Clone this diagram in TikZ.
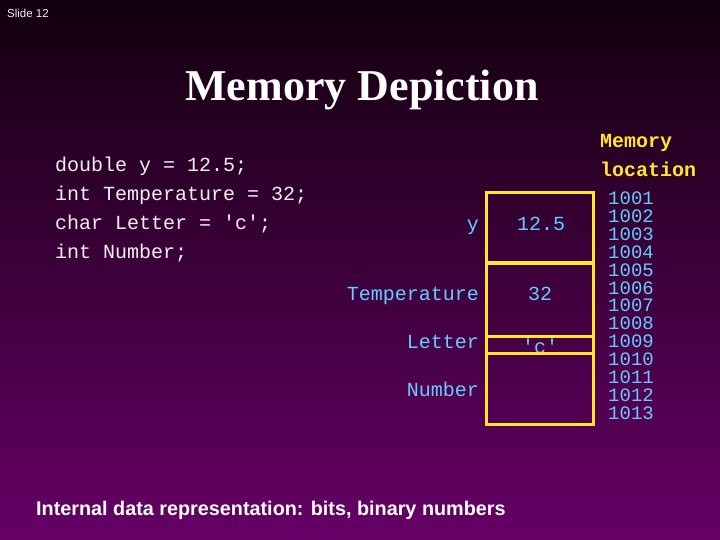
\documentclass[tikz,border=0pt]{standalone}
\usepackage{fontspec}
\setmainfont{Liberation Serif}
\setsansfont{Liberation Sans}
\setmonofont{Liberation Mono}
\usetikzlibrary{positioning}
\definecolor{slidetop}{RGB}{18,0,14}
\definecolor{slidebot}{RGB}{102,0,102}
\definecolor{codewhite}{RGB}{246,238,246}
\definecolor{varblue}{RGB}{102,204,255}
\definecolor{memyellow}{RGB}{255,230,40}
\tikzset{
  code/.style={font=\ttfamily\fontsize{20bp}{24bp}\selectfont, text=codewhite, anchor=mid west, inner sep=0pt},
  varname/.style={font=\ttfamily\fontsize{20bp}{24bp}\selectfont, text=varblue, anchor=mid east, inner sep=0pt},
  value/.style={font=\ttfamily\fontsize{20bp}{24bp}\selectfont, text=varblue, anchor=mid, inner sep=0pt},
  addr/.style={font=\ttfamily\fontsize{19bp}{22bp}\selectfont, text=varblue, anchor=mid, inner sep=0pt},
  memhead/.style={font=\ttfamily\bfseries\fontsize{20bp}{24bp}\selectfont, text=memyellow, anchor=mid west, inner sep=0pt},
  cell/.style={draw=memyellow, line width=3bp, rectangle, inner sep=0pt, minimum width=107bp}
}
\begin{document}
\begin{tikzpicture}[x=1bp,y=-1bp]
\shade[top color=slidetop, bottom color=slidebot] (0,0) rectangle (720,540);
\useasboundingbox (0,0) rectangle (720,540);
\node[font=\sffamily\fontsize{11.5bp}{13bp}\selectfont, text=codewhite, anchor=mid west, inner sep=0pt] (slidenum) at (7,15) {Slide 12};
\node[font=\bfseries\fontsize{44bp}{50bp}\selectfont, text=white, inner sep=0pt, anchor=mid] (title) at (362,98) {Memory Depiction};
% declarations
\node[code] (decly) at (55,169) {double y = 12.5;};
\node[code] (declt) at (55,198) {int Temperature = 32;};
\node[code] (decll) at (55,227) {char Letter = 'c';};
\node[code] (decln) at (55,256) {int Number;};
% memory cells
\node[cell, minimum height=70bp] (cellY) at (539.5,228) {};
\node[cell, minimum height=73bp] (cellT) at (539.5,299.5) {};
\node[cell, minimum height=17bp] (cellL) at (539.5,344.5) {};
\node[cell, minimum height=71bp] (cellN) at (539.5,388.5) {};
\node[varname] (nameY) at (479,228) {y};
\node[varname] (nameT) at (479,298) {Temperature};
\node[varname] (nameL) at (479,346) {Letter};
\node[varname] (nameN) at (479,394) {Number};
\node[value] (valY) at (541,228) {12.5};
\node[value] (valT) at (540,298) {32};
\begin{scope}
\clip (488,338) rectangle (591,351.5);
\node[value] (valL) at (540,351.5) {'c'};
\end{scope}
% addresses
\node[memhead] (headA) at (600,145) {Memory};
\node[memhead] (headB) at (600,174) {location};
\foreach \i in {1,...,13} {
  \pgfmathtruncatemacro\loc{1000+\i}
  \node[addr] (loc\i) at (631,202+17.95*\i-17.95) {\loc};
}
\node[font=\sffamily\bfseries\fontsize{19.8bp}{24bp}\selectfont, text=white, anchor=mid west, inner sep=0pt] (caption) at (36,513) {Internal data representation: bits, binary numbers};
\end{tikzpicture}
\end{document}
